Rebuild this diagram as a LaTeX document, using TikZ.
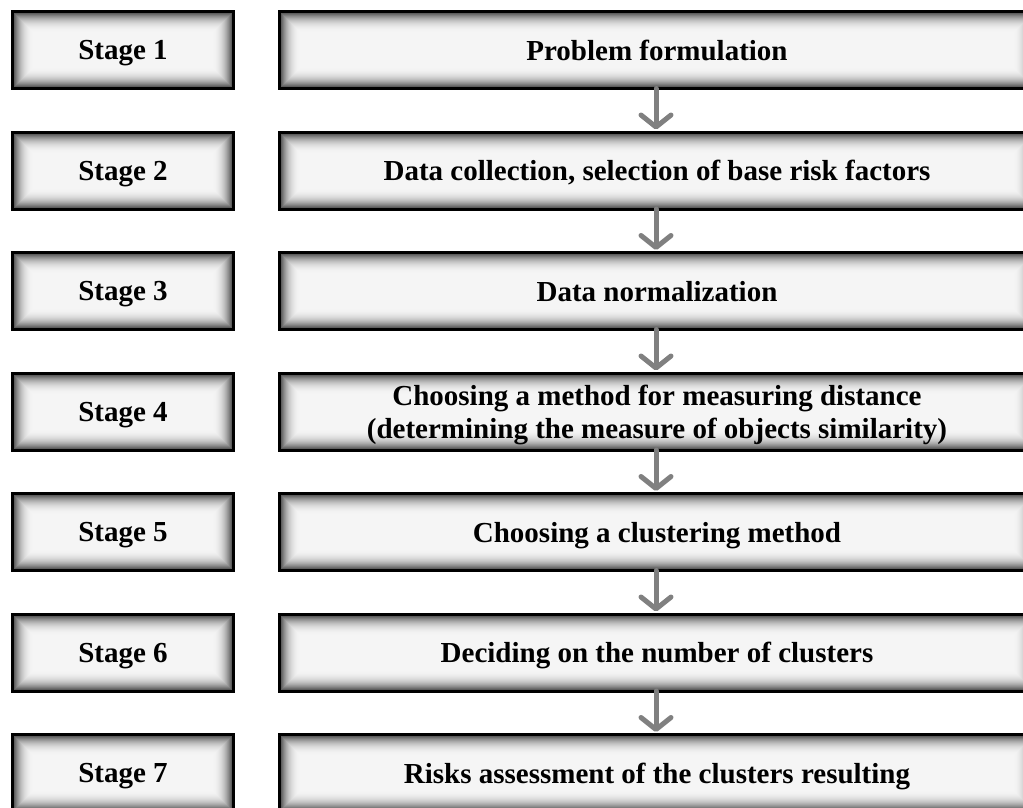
\documentclass[tikz,border=0pt]{standalone}
\usepackage{fontspec}
\setmainfont{Liberation Serif}
\usetikzlibrary{arrows.meta}
\tikzset{
  glowbox/.style={draw=black, line width=3pt, fill=black!4, inner sep=0pt,
    minimum height=77pt, text depth=0pt, font=\fontsize{29}{33}\selectfont\bfseries, align=center,
    path picture={
      \foreach \i in {0,...,19}{
        \pgfmathsetmacro\op{0.62*(1-\i/20)^2.4}
        \pgfmathsetmacro\d{\i+2}
        \draw[black, opacity=\op, line width=1pt]
          ([shift={({\d*1pt},{-\d*1pt})}]path picture bounding box.north west) rectangle
          ([shift={({-\d*1pt},{\d*1pt})}]path picture bounding box.south east);
      }
    }},
  stagebox/.style={glowbox, minimum width=221pt},
  taskbox/.style={glowbox, minimum width=755pt},
  flow/.style={draw=black!50, line width=5pt, line cap=round,
    -{Straight Barb[length=12pt,width=30pt,round]}, shorten >=1pt}
}
\begin{document}
\begin{tikzpicture}[x=1pt,y=-1pt]
\useasboundingbox (0,0) rectangle (1023,808);
\fill[white] (0,0) rectangle (1023,808);
\node[stagebox] (s1) at (123,50) {Stage 1};
\node[stagebox] (s2) at (123,170.5) {Stage 2};
\node[stagebox] (s3) at (123,291) {Stage 3};
\node[stagebox] (s4) at (123,411.5) {Stage 4};
\node[stagebox] (s5) at (123,532) {Stage 5};
\node[stagebox] (s6) at (123,652.5) {Stage 6};
\node[stagebox] (s7) at (123,773) {Stage 7};
\node[taskbox] (t1) at (657,50) {Problem formulation};
\node[taskbox] (t2) at (657,170.5) {Data collection, selection of base risk factors};
\node[taskbox] (t3) at (657,291) {Data normalization};
\node[taskbox] (t4) at (657,411.5) {Choosing a method for measuring distance\\(determining the measure of objects similarity)};
\node[taskbox] (t5) at (657,532) {Choosing a clustering method};
\node[taskbox] (t6) at (657,652.5) {Deciding on the number of clusters};
\node[taskbox] (t7) at (657,773) {Risks assessment of the clusters resulting};
\draw[flow] ([xshift=-1pt,yshift=1.5pt]t1.south) -- ([xshift=-1pt]t2.north);
\draw[flow] ([xshift=-1pt,yshift=1.5pt]t2.south) -- ([xshift=-1pt]t3.north);
\draw[flow] ([xshift=-1pt,yshift=1.5pt]t3.south) -- ([xshift=-1pt]t4.north);
\draw[flow] ([xshift=-1pt,yshift=1.5pt]t4.south) -- ([xshift=-1pt]t5.north);
\draw[flow] ([xshift=-1pt,yshift=1.5pt]t5.south) -- ([xshift=-1pt]t6.north);
\draw[flow] ([xshift=-1pt,yshift=1.5pt]t6.south) -- ([xshift=-1pt]t7.north);
\end{tikzpicture}
\end{document}
